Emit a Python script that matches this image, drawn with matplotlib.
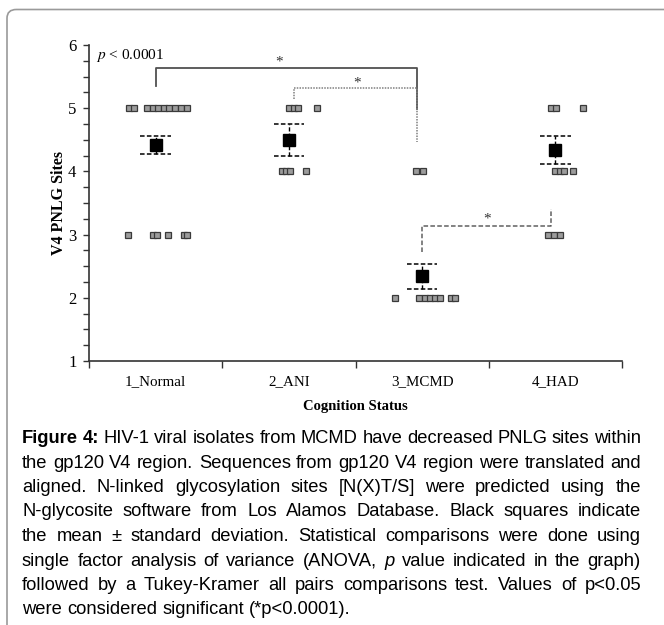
import matplotlib
matplotlib.use("Agg")
import matplotlib.pyplot as plt
from matplotlib.patches import FancyBboxPatch
from matplotlib.ticker import MultipleLocator, FixedLocator, NullFormatter

plt.rcParams["mathtext.fontset"] = "stix"

# ---- data ----
groups = ["1_Normal", "2_ANI", "3_MCMD", "4_HAD"]

# individual isolates: x offset from group centre, PNLG site count
normal_dx = [-0.203, -0.162, -0.064, -0.023, 0.019, 0.060, 0.102, 0.147, 0.192, 0.237,
             -0.207, -0.019, 0.011, 0.094, 0.214, 0.237]
normal_y = [5] * 10 + [3] * 6
ani_dx = [0.004, 0.038, 0.068, 0.214, -0.049, -0.019, 0.008, 0.132]
ani_y = [5] * 4 + [4] * 4
mcmd_dx = [-0.049, 0.004, -0.203, -0.023, 0.019, 0.056, 0.094, 0.135, 0.218, 0.248]
mcmd_y = [4] * 2 + [2] * 8
had_dx = [-0.034, 0.008, 0.211, -0.004, 0.034, 0.068, 0.132, -0.053, -0.008, 0.038]
had_y = [5] * 3 + [4] * 4 + [3] * 3

means = [4.42, 4.50, 2.34, 4.34]
sds = [0.145, 0.255, 0.20, 0.215]

# significance brackets: (x_left, x_right, y_top, y_left_end, y_right_end)
brackets = [
    (0.0, 1.96, 5.63, 5.35, 4.98),
    (1.04, 1.96, 5.32, 5.14, 4.46),
    (2.0, 2.97, 3.14, 2.73, 3.40),
]
star_pos = [(0.93, 5.73), (1.51, 5.40), (2.485, 3.24)]

caption = [
    [("Figure", "bold"), ("4:", "bold"), "HIV-1", "viral", "isolates", "from", "MCMD", "have",
     "decreased", "PNLG", "sites", "within"],
    "the gp120 V4 region. Sequences from gp120 V4 region were translated and".split(),
    "aligned. N-linked glycosylation sites [N(X)T/S] were predicted using the".split(),
    "N-glycosite software from Los Alamos Database. Black squares indicate".split(),
    "the mean \u00b1 standard deviation. Statistical comparisons were done using".split(),
    ["single", "factor", "analysis", "of", "variance", "(ANOVA,", ("p", "italic"), "value",
     "indicated", "in", "the", "graph)"],
    "followed by a Tukey-Kramer all pairs comparisons test. Values of p<0.05".split(),
    "were considered significant (*p<0.0001).".split(),
]

W, H = 664, 625
fig = plt.figure(figsize=(W / 100, H / 100), dpi=100)

def fx(px):
    return px / W

def fy(py):
    return 1 - py / H

# frame round the figure panel (only left and top edges fall inside the picture)
frame = FancyBboxPatch((fx(7), fy(720)), fx(800), (720 - 9.5) / H, transform=fig.transFigure,
                       boxstyle="round,pad=0,rounding_size=0.014", fc="none",
                       ec="#9a9a9a", lw=1.2, clip_on=False)
fig.patches.append(frame)

ax = fig.add_axes([fx(89), fy(361), fx(622) - fx(89), (361 - 45) / H])
serif = "Liberation Serif"

all_dx = [normal_dx, ani_dx, mcmd_dx, had_dx]
all_y = [normal_y, ani_y, mcmd_y, had_y]
for i in range(len(groups)):
    xs = [i + d for d in all_dx[i]]
    ax.plot(xs, all_y[i], ls="none", marker="s", ms=4.3, mfc="#9c9c9c",
            mec="#3a3a3a", mew=0.9, zorder=3)

for i, (m, s) in enumerate(zip(means, sds)):
    ax.plot([i, i], [m - s, m + s], color="black", lw=1, ls=(0, (3, 1.5)), zorder=2)
    ax.plot([i - 0.115, i + 0.115], [m + s] * 2, color="black", lw=1.1, ls=(0, (3, 1.5)))
    ax.plot([i - 0.115, i + 0.115], [m - s] * 2, color="black", lw=1.1, ls=(0, (3, 1.5)))
    ax.plot([i], [m], ls="none", marker="s", ms=8.8, mfc="black", mec="black", zorder=4)

styles = [dict(color="#505050", lw=1.3, ls="-"),
          dict(color="#808080", lw=1.1, ls=(0, (1, 0.8))),
          dict(color="#606060", lw=1.1, ls=(0, (3, 1.5)))]
for (x0, x1, yt, y0, y1), st in zip(brackets, styles):
    ax.plot([x0, x0, x1, x1], [y0, yt, yt, y1], **st)
for sx, sy in star_pos:
    ax.text(sx, sy, "*", ha="center", va="center", fontsize=11, family=serif, color="#333333")

ax.text(-0.45, 5.84, "$p$ < 0.0001", ha="left", va="center", fontsize=11, family=serif)

ax.set_xlim(-0.5, 3.5)
ax.set_ylim(1, 6)
for side in ["top", "right"]:
    ax.spines[side].set_visible(False)
for side in ["left", "bottom"]:
    ax.spines[side].set_color("#333333")
    ax.spines[side].set_linewidth(1.2)

ax.yaxis.set_major_locator(MultipleLocator(1))
ax.yaxis.set_minor_locator(MultipleLocator(0.25))
ax.tick_params(axis="y", which="both", length=4, width=1, color="#333333",
               labelsize=12, pad=5)
ax.xaxis.set_major_locator(FixedLocator([-0.5, 0.5, 1.5, 2.5, 3.5]))
ax.xaxis.set_major_formatter(NullFormatter())
ax.xaxis.set_minor_locator(FixedLocator(range(len(groups))))
ax.set_xticklabels(groups, minor=True)
ax.tick_params(axis="x", which="major", length=5, width=1, color="#333333")
ax.tick_params(axis="x", which="minor", length=0, labelsize=10.8, pad=10)
for lab in ax.get_xticklabels(minor=True) + ax.get_yticklabels():
    lab.set_family(serif)

ax.set_xlabel("Cognition Status", family=serif, fontweight="bold", fontsize=10.5, labelpad=9)
ax.set_ylabel("V4 PNLG Sites", family=serif, fontweight="bold", fontsize=11.5)
ax.yaxis.set_label_coords((67 - 89) / (622 - 89), 0.5)

# caption, justified between x=22 and x=641 px
sans = "Liberation Sans"
left_px, right_px = 22, 641
baselines = [443, 467.5, 492, 516.5, 541, 565.5, 590, 614.5]
renderer = fig.canvas.get_renderer()

def word_kw(style, size):
    kw = dict(family=sans, fontsize=size, va="baseline", ha="left")
    if style == "bold":
        kw["fontweight"] = "bold"
    if style == "italic":
        kw["fontstyle"] = "italic"
    return kw

def split_word(w):
    return w if isinstance(w, tuple) else (w, "normal")

def width_of(s, kw):
    t = fig.text(0, 0, s, **kw)
    wd = t.get_window_extent(renderer).width
    t.remove()
    return wd

# pick the font size so that the justified lines have about normal word spacing
base = 10.0
ratios = []
for words in caption[:-1]:
    kwn = word_kw("normal", base)
    space = width_of("a a", kwn) - width_of("aa", kwn)
    nat = sum(width_of(*[split_word(w)[0]], word_kw(split_word(w)[1], base)) for w in words)
    nat += space * (len(words) - 1)
    ratios.append((right_px - left_px) / nat)
ratios.sort()
cap_size = base * ratios[len(ratios) // 2] * 0.95

for li, words in enumerate(caption):
    items = []
    for w in words:
        word, style = split_word(w)
        t = fig.text(0, fy(baselines[li]), word, **word_kw(style, cap_size))
        items.append((t, t.get_window_extent(renderer).width))
    total = sum(wd for _, wd in items)
    if li == len(caption) - 1:
        kwn = word_kw("normal", cap_size)
        gap = width_of("a a", kwn) - width_of("aa", kwn)
    else:
        gap = (right_px - left_px - total) / (len(items) - 1)
    x = left_px
    for t, wd in items:
        t.set_x(fx(x))
        x += wd + gap

fig.savefig("out.png", dpi=100)
